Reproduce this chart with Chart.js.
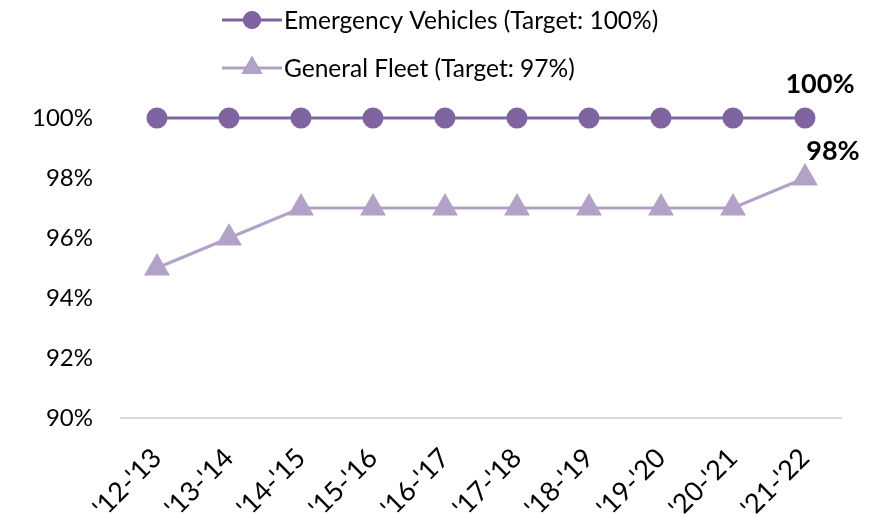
<!DOCTYPE html>
<html>
<head>
<meta charset="utf-8">
<script src="https://cdn.jsdelivr.net/npm/chart.js@4"></script>
<style>
  html, body { margin: 0; padding: 0; background: #fff; }
  #wrap { width: 889px; height: 516px; }
</style>
</head>
<body>
<div id="wrap"><canvas id="chart"></canvas></div>
<script>
// Fiscal years and availability rates (%)
const years = ["'12-'13", "'13-'14", "'14-'15", "'15-'16", "'16-'17", "'17-'18", "'18-'19", "'19-'20", "'20-'21", "'21-'22"];
const emergencyVehicles = [100, 100, 100, 100, 100, 100, 100, 100, 100, 100];
const generalFleet = [95, 96, 97, 97, 97, 97, 97, 97, 97, 98];
const seriesNames = ['Emergency Vehicles (Target: 100%)', 'General Fleet (Target: 97%)'];
const yTicks = [90, 92, 94, 96, 98, 100];

const FONT = 'Lato, "DejaVu Sans", sans-serif';
const DARK = '#8064A2';
const LIGHT = '#B3A2C7';

// Legend stacked in two rows at the top
const stackedLegend = {
  id: 'stackedLegend',
  afterDraw(chart) {
    const ctx = chart.ctx;
    const rows = [20, 68];
    chart.data.datasets.forEach((ds, i) => {
      const y = rows[i];
      ctx.save();
      ctx.strokeStyle = ds.borderColor;
      ctx.lineWidth = 3;
      ctx.beginPath();
      ctx.moveTo(222, y);
      ctx.lineTo(282, y);
      ctx.stroke();
      Chart.helpers.drawPoint(ctx, {
        pointStyle: ds.pointStyle,
        radius: ds.pointRadius,
        borderWidth: 0
      }, 252, y);
      ctx.fillStyle = ds.pointBackgroundColor;
      ctx.fill();
      ctx.fillStyle = '#000';
      ctx.font = '24.5px ' + FONT;
      ctx.textBaseline = 'middle';
      ctx.textAlign = 'left';
      ctx.fillText(ds.label, 284, y + 1);
      ctx.restore();
    });
  }
};

// Bold value labels on the last point of each series
const lastValueLabels = {
  id: 'lastValueLabels',
  afterDatasetsDraw(chart) {
    const ctx = chart.ctx;
    const offsets = [[15, -34], [28, -27]];
    chart.data.datasets.forEach((ds, i) => {
      const meta = chart.getDatasetMeta(i);
      const n = ds.data.length - 1;
      const pt = meta.data[n];
      ctx.save();
      ctx.font = 'bold 27px ' + FONT;
      ctx.fillStyle = '#000';
      ctx.textAlign = 'center';
      ctx.textBaseline = 'middle';
      ctx.fillText(ds.data[n] + '%', pt.x + offsets[i][0], pt.y + offsets[i][1]);
      ctx.restore();
    });
  }
};

new Chart(document.getElementById('chart'), {
  type: 'line',
  data: {
    labels: years,
    datasets: [
      {
        label: seriesNames[0],
        data: emergencyVehicles,
        borderColor: DARK,
        backgroundColor: DARK,
        pointBackgroundColor: DARK,
        pointBorderColor: DARK,
        borderWidth: 3,
        pointStyle: 'circle',
        pointRadius: 9,
        pointHoverRadius: 9,
        clip: false
      },
      {
        label: seriesNames[1],
        data: generalFleet,
        borderColor: LIGHT,
        backgroundColor: LIGHT,
        pointBackgroundColor: LIGHT,
        pointBorderColor: LIGHT,
        borderWidth: 3,
        pointStyle: 'triangle',
        pointRadius: 12,
        pointHoverRadius: 12,
        clip: false
      }
    ]
  },
  options: {
    responsive: true,
    maintainAspectRatio: false,
    animation: false,
    layout: { padding: { top: 118, right: 48, left: 0, bottom: 0 } },
    plugins: {
      legend: { display: false },
      tooltip: { enabled: false }
    },
    scales: {
      x: {
        offset: true,
        grid: { display: false },
        border: { display: true, color: '#d9d9d9', width: 2 },
        ticks: {
          color: '#000',
          font: { family: FONT, size: 27 },
          minRotation: 45,
          maxRotation: 45,
          padding: 16
        },
        afterFit(scale) { scale.height = 98; }
      },
      y: {
        min: 90,
        max: 100,
        afterBuildTicks(scale) { scale.ticks = yTicks.map(v => ({ value: v })); },
        grid: { display: false, drawTicks: false },
        border: { display: false },
        ticks: {
          color: '#000',
          font: { family: FONT, size: 24 },
          padding: 28,
          callback: v => v + '%'
        },
        afterFit(scale) { scale.width = 121; }
      }
    }
  },
  plugins: [stackedLegend, lastValueLabels]
});
</script>
</body>
</html>
